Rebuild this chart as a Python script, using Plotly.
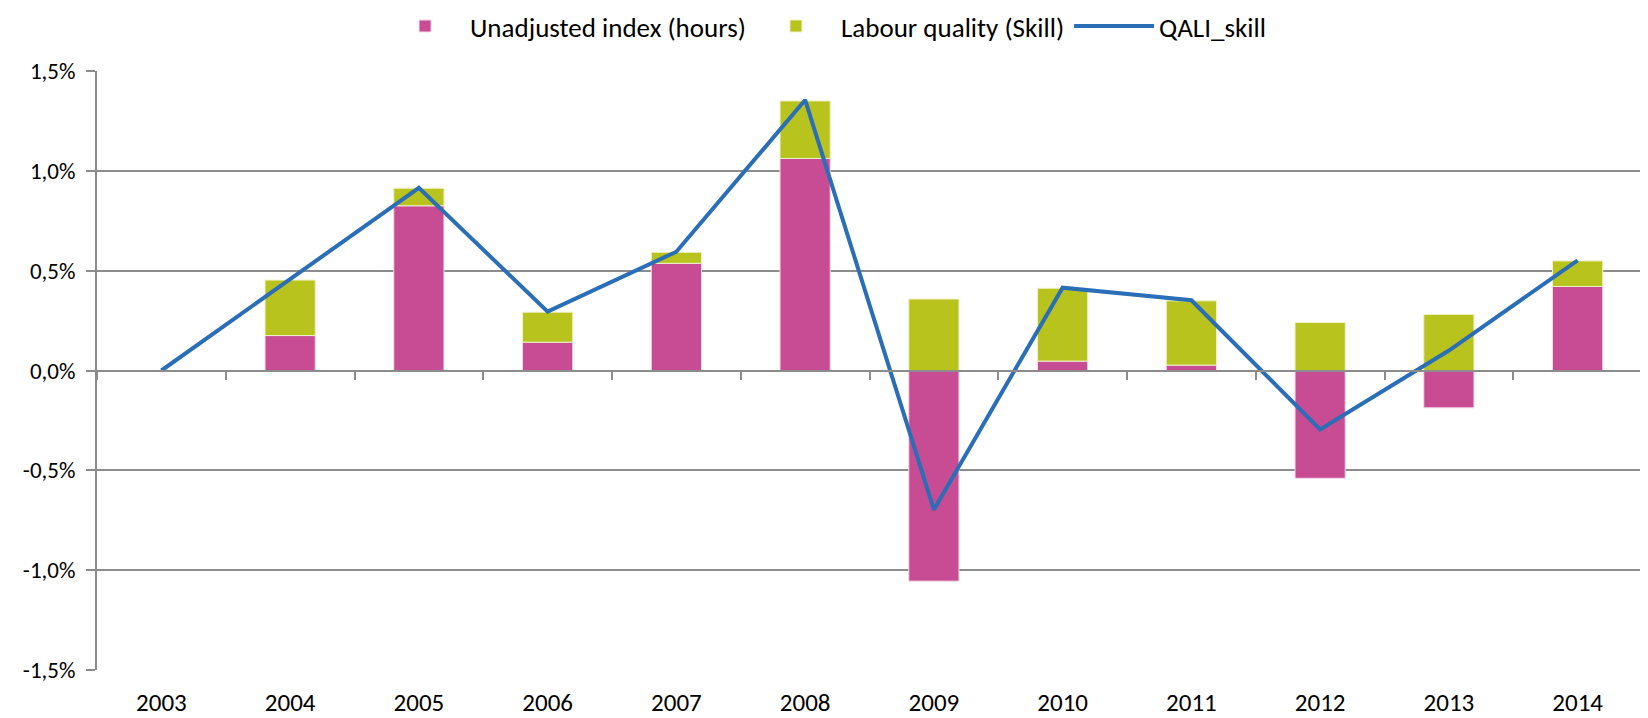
import plotly.graph_objects as go

years = ["2003", "2004", "2005", "2006", "2007", "2008", "2009", "2010", "2011", "2012", "2013", "2014"]
unadjusted = [0.0, 0.175, 0.825, 0.142, 0.537, 1.062, -1.055, 0.047, 0.027, -0.540, -0.187, 0.421]
skill = [0.0, 0.278, 0.088, 0.150, 0.055, 0.288, 0.358, 0.365, 0.322, 0.240, 0.281, 0.128]
qali_skill = [0.0, 0.455, 0.915, 0.295, 0.595, 1.355, -0.697, 0.415, 0.352, -0.295, 0.100, 0.552]

y_tickvals = [-1.5, -1.0, -0.5, 0.0, 0.5, 1.0, 1.5]
y_ticktext = ["-1,5%", "-1,0%", "-0,5%", "0,0%", "0,5%", "1,0%", "1,5%"]

FONT = "Calibri, Carlito, Lato, sans-serif"
GRID = "#8c8c8c"

fig = go.Figure()
fig.add_trace(go.Bar(x=years, y=unadjusted, name="Unadjusted index (hours)",
                     marker=dict(color="#C84C93", line=dict(color="#f4dbe8", width=1)),
                     width=0.39))
fig.add_trace(go.Bar(x=years, y=skill, name="Labour quality (Skill)",
                     marker=dict(color="#B8C31E", line=dict(color="#eef2c6", width=1)),
                     width=0.39))
fig.add_trace(go.Scatter(x=years, y=qali_skill, name="QALI_skill", mode="lines",
                         line=dict(color="#2A6EB8", width=4), xaxis="x2"))

fig.update_layout(
    width=1640, height=710,
    barmode="relative",
    plot_bgcolor="white", paper_bgcolor="white",
    font=dict(family=FONT, size=26, color="#000000"),
    margin=dict(l=89, r=6, t=63, b=48, autoexpand=False),
    showlegend=True,
    legend=dict(orientation="h", xref="container", yref="container",
                x=0.4985, xanchor="center", y=0.974, yanchor="middle",
                font=dict(size=27), traceorder="normal", itemwidth=80),
    xaxis=dict(type="category", categoryarray=years, range=[-0.5, 11.5],
               showline=False, showgrid=False, ticks="", zeroline=False,
               ticklabelstandoff=15, tickfont=dict(size=25)),
    xaxis2=dict(type="category", categoryarray=years, range=[-0.5, 11.5],
                overlaying="x", anchor="free", position=0.5,
                showline=True, linecolor=GRID, linewidth=2,
                ticks="outside", ticklen=8, tickwidth=2, tickcolor=GRID,
                tickson="boundaries", showticklabels=False, showgrid=False),
    yaxis=dict(range=[-1.5, 1.5], tickvals=y_tickvals, ticktext=y_ticktext,
               showgrid=True, gridcolor=GRID, gridwidth=2, zeroline=False,
               showline=True, linecolor=GRID, linewidth=2,
               ticks="outside", ticklen=9, tickwidth=2, tickcolor=GRID,
               ticklabelstandoff=6, tickfont=dict(size=23)),
)

fig.write_html("out.html")
